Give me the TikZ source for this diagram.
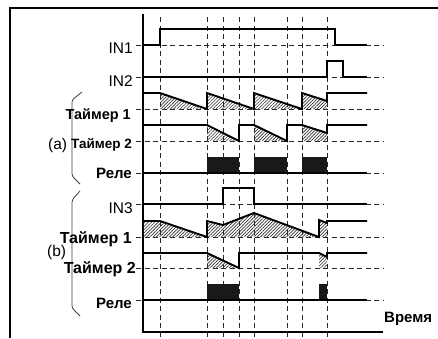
\documentclass[tikz,border=0pt]{standalone}
\usepackage{fontspec}
\setmainfont{Liberation Sans}
\usetikzlibrary{patterns.meta}
\begin{document}
\begin{tikzpicture}[x=1pt,y=-1pt,
  sig/.style={line width=1.9pt, line join=miter, line cap=butt},
  axisline/.style={line width=1.8pt},
  guide/.style={line width=0.9pt, dash pattern=on 5pt off 3.5pt, black!85},
  hatch/.style={pattern={Lines[angle=45,distance=2.3pt,line width=0.65pt]}, pattern color=black!80},
  relay/.style={fill=black!90},
  brace/.style={line width=0.8pt, black!75, rounded corners=2.5pt},
  lbl/.style={anchor=base east, inner sep=0pt},
  plain/.style={lbl, font=\fontsize{15.5}{15.5}\selectfont},
  bold/.style={lbl, font=\bfseries\fontsize{#1}{#1}\selectfont}]

\useasboundingbox (0,0) rectangle (438,338);

% frame
\draw[line width=1.2pt] (10,338) -- (10,8) -- (438,8);

% time guides
\foreach \t in {160,207,223,239,254,287,302,327}
  \draw[guide] (\t,17) -- (\t,338);

% row baselines (dashed references)
\foreach \y in {45,77,109,141,173,204,237,268,300}
  \draw[guide] (136,\y) -- (383,\y);

% axes
\draw[axisline] (143,14) -- (143,332) -- (383,332);

% hatched timer areas
\fill[hatch] (160,93) -- (207,109) -- (160,109) -- cycle;
\fill[hatch] (207,93) -- (254,109) -- (207,109) -- cycle;
\fill[hatch] (254,93) -- (302,109) -- (254,109) -- cycle;
\fill[hatch] (302,93) -- (327,101) -- (327,109) -- (302,109) -- cycle;
\fill[hatch] (207,125) -- (239,141) -- (207,141) -- cycle;
\fill[hatch] (254,125) -- (287,141) -- (254,141) -- cycle;
\fill[hatch] (302,125) -- (327,133) -- (327,141) -- (302,141) -- cycle;
\fill[hatch] (143,221) -- (160,221) -- (207,237) -- (207,221) -- (223,225)
  -- (254,213) -- (319,237) -- (319,220) -- (327,223) -- (327,237) -- (143,237) -- cycle;
\fill[hatch] (207,253) -- (239,268) -- (207,268) -- cycle;
\fill[hatch] (319,253) -- (327,257) -- (327,268) -- (319,268) -- cycle;

% relay pulses
\fill[relay] (207,157) rectangle (239,173);
\fill[relay] (254,157) rectangle (287,173);
\fill[relay] (302,157) rectangle (327,173);
\fill[relay] (207,284) rectangle (239,300);
\fill[relay] (319,284) rectangle (327,300);

% signal traces, part (a)
\draw[sig] (143,45) -- (160,45) -- (160,29) -- (335,29) -- (335,45) -- (367,45);
\draw[sig] (143,77) -- (327,77) -- (327,61) -- (343,61) -- (343,77) -- (367,77);
\draw[sig] (143,93) -- (160,93) -- (207,109) -- (207,93) -- (254,109) -- (254,93)
  -- (302,109) -- (302,93) -- (327,101) -- (327,93) -- (367,93);
\draw[sig] (143,125) -- (207,125) -- (239,141) -- (239,125) -- (254,125) -- (287,141)
  -- (287,125) -- (302,125) -- (327,133) -- (327,125) -- (367,125);
\draw[sig] (143,173) -- (367,173);

% signal traces, part (b)
\draw[sig] (143,204) -- (223,204) -- (223,188) -- (254,188) -- (254,204) -- (367,204);
\draw[sig] (143,221) -- (160,221) -- (207,237) -- (207,221) -- (223,225) -- (254,213)
  -- (319,237) -- (319,220) -- (327,223) -- (327,221) -- (367,221);
\draw[sig] (143,253) -- (207,253) -- (239,268) -- (239,253) -- (319,253) -- (327,257)
  -- (327,253) -- (367,253);
\draw[sig] (143,300) -- (367,300);

% group braces
\draw[brace] (82,92) -- (72,100) -- (72,176) -- (80,184);
\draw[brace] (80,191) -- (72,200) -- (72,308) -- (80,316);

% labels
\node[plain] (in1) at (133,53) {IN1};
\node[plain] (in2) at (133,86) {IN2};
\node[bold=14.5] (t1a) at (131,119) {Таймер 1};
\node[bold=13.5] (t2a) at (132,148) {Таймер 2};
\node[bold=15] (rla) at (132,178) {Реле};
\node[plain] (in3) at (133,213) {IN3};
\node[bold=16] (t1b) at (132,243) {Таймер 1};
\node[bold=16] (t2b) at (136,273) {Таймер 2};
\node[bold=15] (rlb) at (132,308) {Реле};
\node[plain, anchor=base west] (ga) at (48,149) {(a)};
\node[plain, anchor=base west] (gb) at (47,256) {(b)};
\node[bold=15, anchor=base west] (time) at (384,322) {Время};
\end{tikzpicture}
\end{document}
